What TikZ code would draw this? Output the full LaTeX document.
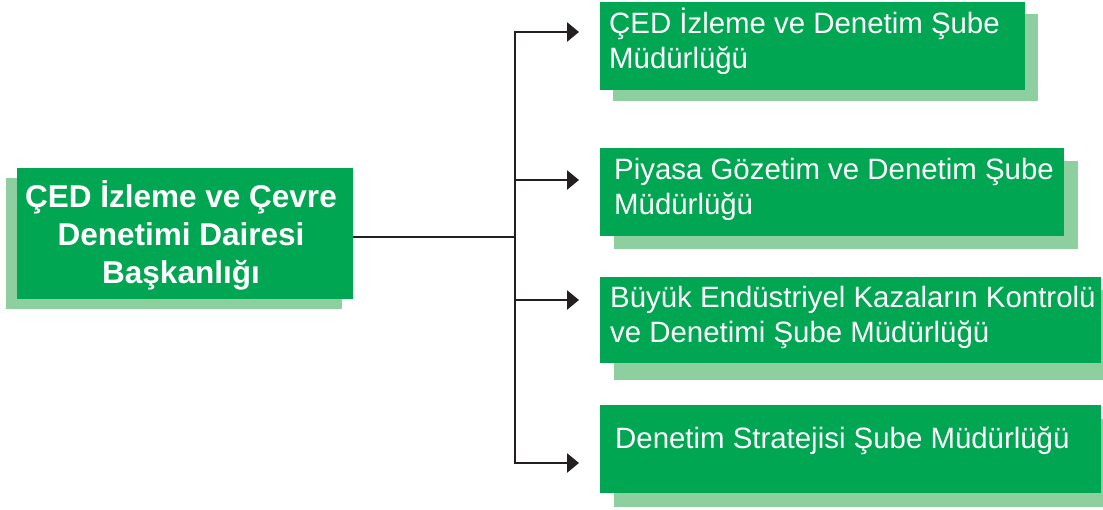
\documentclass[tikz,border=0pt]{standalone}
\usepackage{fontspec}
\setmainfont{Liberation Sans}
\usetikzlibrary{arrows.meta}
\definecolor{boxgreen}{HTML}{00A651}
\definecolor{shadowgreen}{HTML}{8ECF9F}
\definecolor{linedark}{HTML}{231F20}
\tikzset{
  greenbox/.style={fill=boxgreen, draw=none, inner sep=0pt, anchor=north west},
  shadowbox/.style={fill=shadowgreen, draw=none},
  maintext/.style={text=white, font=\fontsize{31.5}{38}\selectfont\bfseries, inner sep=0pt, anchor=base},
  subtext/.style={text=white, font=\fontsize{29.4}{35}\selectfont, inner sep=0pt, anchor=base west},
  conn/.style={draw=linedark, line width=2.8pt},
  arrowconn/.style={conn, -{Triangle[length=12pt,width=19pt]}}
}
\newcommand{\toplines}[2][l]{\begin{tabular}[t]{@{}#1@{}}#2\end{tabular}}
\begin{document}
\begin{tikzpicture}[x=1pt,y=-1pt]
\useasboundingbox (0,0) rectangle (1103,509);
\clip (0,0) rectangle (1103,509);
% shadows
\fill[shadowbox] (6,178) rectangle (342,309);
\fill[shadowbox] (613,14) rectangle (1038,101);
\fill[shadowbox] (614,161) rectangle (1078,249);
\fill[shadowbox] (614,290) rectangle (1115,380);
\fill[shadowbox] (614,419) rectangle (1115,507);
% boxes
\node[greenbox, minimum width=336pt, minimum height=131pt] (main) at (17,168) {};
\node[greenbox, minimum width=425pt, minimum height=88pt] (b1) at (600,2) {};
\node[greenbox, minimum width=464pt, minimum height=88pt] (b2) at (600,148) {};
\node[greenbox, minimum width=501pt, minimum height=86pt] (b3) at (600,277) {};
\node[greenbox, minimum width=501pt, minimum height=88pt] (b4) at (600,405) {};
% texts
\node[maintext] (mt) at (181,207) {\toplines[c]{ÇED İzleme ve Çevre\\Denetimi Dairesi\\Başkanlığı}};
\node[subtext] (t1) at (609,33) {\toplines{ÇED İzleme ve Denetim Şube\\Müdürlüğü}};
\node[subtext] (t2) at (614,179) {\toplines{Piyasa Gözetim ve Denetim Şube\\Müdürlüğü}};
\node[subtext] (t3) at (610,307) {\toplines{Büyük Endüstriyel Kazaların Kontrolü\\ve Denetimi Şube Müdürlüğü}};
\node[subtext] (t4) at (615,448) {Denetim Stratejisi Şube Müdürlüğü};
% connectors
\coordinate (hub) at (515,237);
\coordinate (j1) at (515,32);
\coordinate (j2) at (515,180);
\coordinate (j3) at (515,300);
\coordinate (j4) at (515,463);
\draw[conn] (main.east |- hub) -- (hub);
\draw[conn, line cap=rect] (j1) -- (j4);
\draw[arrowconn, shorten >=21pt] (j1) -- (b1.west |- j1);
\draw[arrowconn, shorten >=21pt] (j2) -- (b2.west |- j2);
\draw[arrowconn, shorten >=21pt] (j3) -- (b3.west |- j3);
\draw[arrowconn, shorten >=21pt] (j4) -- (b4.west |- j4);
\end{tikzpicture}
\end{document}
